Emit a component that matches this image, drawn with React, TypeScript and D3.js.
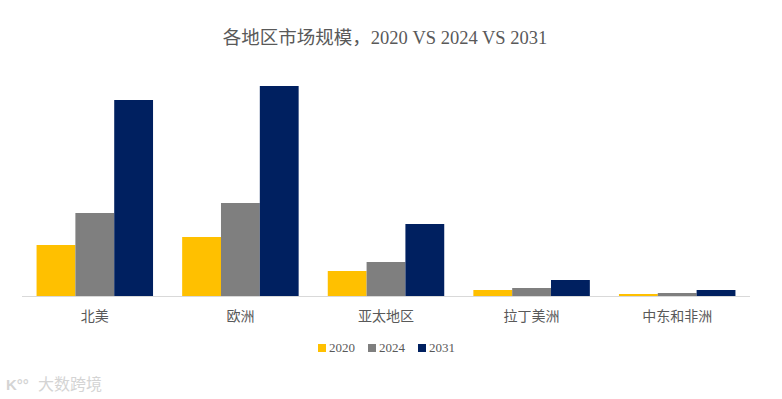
import React from 'react'
import * as d3 from 'd3'

// region names and market size values (relative units)
const regions = ['北美', '欧洲', '亚太地区', '拉丁美洲', '中东和非洲']
const years = ['2020', '2024', '2031']
const v2020 = [51, 59, 25, 6, 2]
const v2024 = [83, 93, 34, 8, 3]
const v2031 = [196, 210, 72, 16, 6]
const colors = ['#FFC000', '#7F7F7F', '#002060']

const W = 782
const H = 399
const fontCn = '"Liberation Serif", "Noto Sans CJK SC", serif'

export default function App() {
  const series = [v2020, v2024, v2031]

  const x0 = d3.scaleBand().domain(regions).range([22, 750]).paddingInner(0.2).paddingOuter(0.1)
  const x1 = d3.scaleBand().domain(years).range([0, x0.bandwidth()])
  const y = d3.scaleLinear().domain([0, 210]).range([296, 86])

  const legendX = [318, 368, 418]

  return (
    <svg width={W} height={H} style={{ position: 'absolute', left: 0, top: 0, background: '#fff' }}>
      <text x={385} y={44} textAnchor="middle" fontSize={18.5} fill="#595959" fontFamily={fontCn}>
        各地区市场规模，2020 VS 2024 VS 2031
      </text>

      {regions.map((r, i) => (
        <g key={r} transform={`translate(${x0(r)},0)`}>
          {years.map((yr, k) => (
            <rect
              key={yr}
              x={x1(yr)}
              y={y(series[k][i])}
              width={x1.bandwidth()}
              height={y(0) - y(series[k][i])}
              fill={colors[k]}
            />
          ))}
        </g>
      ))}

      <line x1={22} x2={750} y1={296.5} y2={296.5} stroke="#d9d9d9" strokeWidth={1} />

      {regions.map(r => (
        <text
          key={r}
          x={(x0(r) as number) + x0.bandwidth() / 2}
          y={321}
          textAnchor="middle"
          fontSize={14}
          fill="#595959"
          fontFamily={fontCn}
        >
          {r}
        </text>
      ))}

      {years.map((yr, k) => (
        <g key={yr} transform={`translate(${legendX[k]},0)`}>
          <rect x={0} y={344} width={8} height={8} fill={colors[k]} />
          <text x={11} y={352} fontSize={13} fill="#595959" fontFamily={fontCn}>
            {yr}
          </text>
        </g>
      ))}

      <g opacity={0.5}>
        <text x={6} y={390} fontSize={15} fill="#aaa" fontFamily="sans-serif" fontWeight="bold">
          K°°
        </text>
        <text x={38} y={390} fontSize={16} fill="#aaa" fontFamily='"Noto Sans CJK SC", sans-serif'>
          大数跨境
        </text>
      </g>
    </svg>
  )
}
